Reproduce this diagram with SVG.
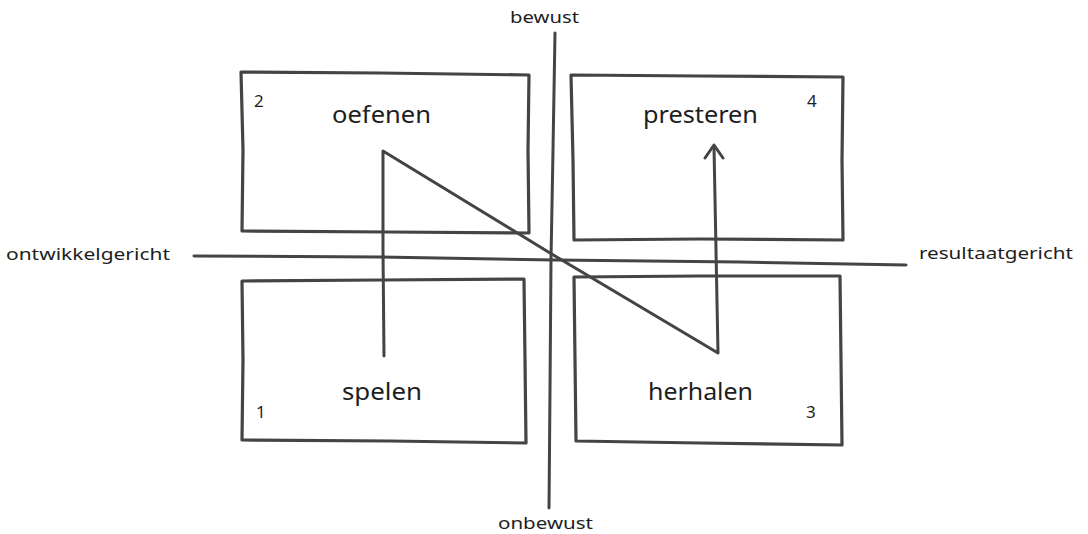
<svg xmlns="http://www.w3.org/2000/svg" width="1088" height="534" viewBox="0 0 1088 534">
  <style>
    .ink { fill: none; stroke: #444; stroke-width: 3; stroke-linecap: round; stroke-linejoin: round; }
    .box { fill: none; stroke: #444; stroke-width: 3.2; stroke-linejoin: round; }
    .lbl { font-family: "Noto Sans", "Liberation Sans", sans-serif; fill: #1e1e1e; }
    .big { font-size: 24px; }
    .num { font-size: 17px; }
    .axis { font-size: 17px; }
  </style>
  <rect width="1088" height="534" fill="#fff"/>

  <!-- quadrant boxes, drawn with a slight hand-drawn wobble -->
  <g id="box-oefenen">
    <path class="box" d="M241 72 L380 73 L529 75 L528 150 L529 233 L390 232 L242 231 L243 150 Z"/>
    <text class="lbl num" x="254" y="107">2</text>
    <text class="lbl big" x="332" y="123" textLength="99" lengthAdjust="spacingAndGlyphs">oefenen</text>
  </g>
  <g id="box-presteren">
    <path class="box" d="M571 75 L700 76 L843 77 L842 160 L843 240 L700 239 L574 240 L573 160 Z"/>
    <text class="lbl num" x="807" y="107">4</text>
    <text class="lbl big" x="643" y="123" textLength="115" lengthAdjust="spacingAndGlyphs">presteren</text>
  </g>
  <g id="box-spelen">
    <path class="box" d="M242 281 L380 280 L524 279 L525 360 L526 443 L390 441 L242 440 L243 360 Z"/>
    <text class="lbl num" x="256" y="418">1</text>
    <text class="lbl big" x="342" y="400" textLength="80" lengthAdjust="spacingAndGlyphs">spelen</text>
  </g>
  <g id="box-herhalen">
    <path class="box" d="M574 277 L700 276 L840 276 L841 360 L842 445 L700 443 L576 441 L575 360 Z"/>
    <text class="lbl num" x="806" y="418">3</text>
    <text class="lbl big" x="648" y="400" textLength="105" lengthAdjust="spacingAndGlyphs">herhalen</text>
  </g>

  <!-- axes and their labels -->
  <g id="axis-vertical">
    <path class="ink" d="M555 33 L553 150 L551 260 L550 390 L549 508"/>
    <text class="lbl axis" x="510" y="23" textLength="69" lengthAdjust="spacingAndGlyphs">bewust</text>
    <text class="lbl axis" x="498" y="529" textLength="95" lengthAdjust="spacingAndGlyphs">onbewust</text>
  </g>
  <g id="axis-horizontal">
    <path class="ink" d="M194 256 L380 257 L555 260 L740 262 L906 265"/>
    <text class="lbl axis" x="6" y="260" textLength="164" lengthAdjust="spacingAndGlyphs">ontwikkelgericht</text>
    <text class="lbl axis" x="919" y="259" textLength="154" lengthAdjust="spacingAndGlyphs">resultaatgericht</text>
  </g>

  <!-- path of the learning cycle: spelen, oefenen, herhalen, presteren -->
  <g id="connectors">
    <path class="ink" d="M384 356 L383 250 L383 151 L550 253 L718 353 L716 250 L714 147"/>
    <path class="ink" stroke-width="4" d="M705 158 L714 145 L723 158"/>
  </g>
</svg>
